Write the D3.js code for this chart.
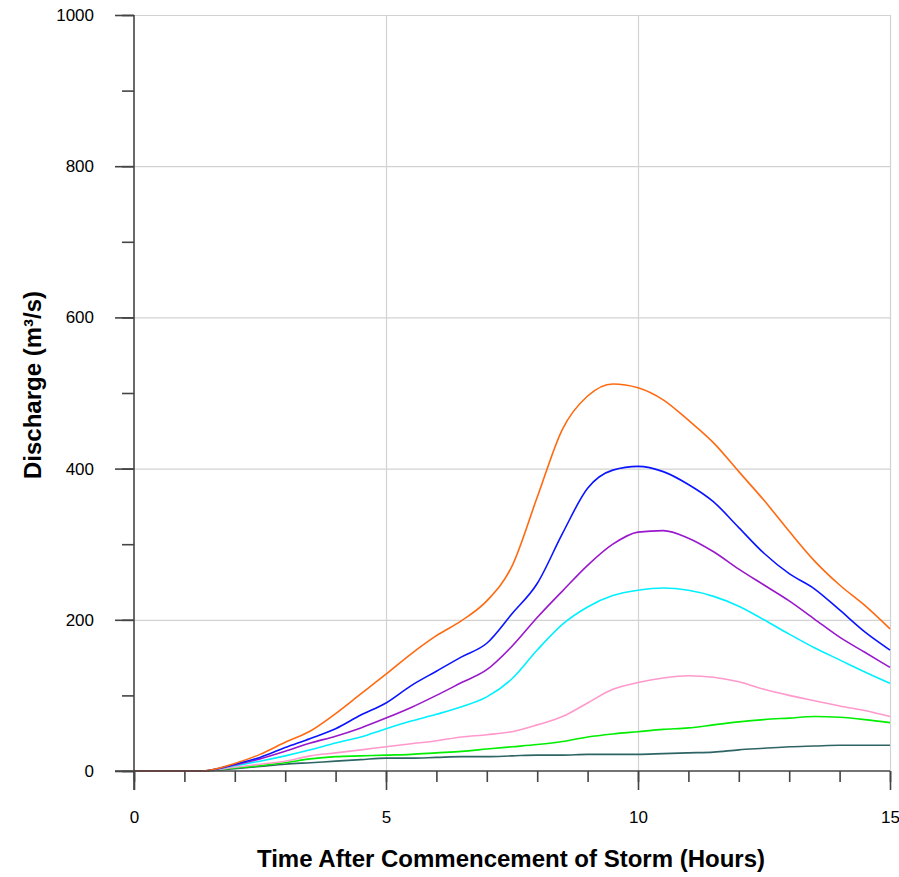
<!DOCTYPE html>
<html>
<head>
<meta charset="utf-8">
<script src="https://cdn.jsdelivr.net/npm/d3@7"></script>
<style>
  body { margin: 0; background: #fff; }
  svg text { font-family: "Liberation Sans", Arial, sans-serif; fill: #000; }
  .axis path, .axis line { stroke: #444; stroke-width: 1.6; }
  .grid line { stroke: #d2d2d2; stroke-width: 1.2; }
  .grid path { display: none; }
</style>
</head>
<body>
<div id="chart"></div>
<script>
// hours after the storm began
const hours = [0, 1.35, 2, 2.5, 3, 3.5, 4, 4.5, 5, 5.5, 6, 6.5, 7, 7.5, 8, 8.5, 9, 9.5, 10, 10.5, 11, 11.5, 12, 12.5, 13, 13.5, 14, 14.5, 15];

// discharge, m3/s, one array per hydrograph
const orangeQ = [0, 0, 10, 22, 38, 53, 76, 102, 128, 155, 179, 199, 225, 271, 362, 452, 496, 512, 507, 491, 464, 434, 396, 358, 317, 278, 246, 219, 188];
const blueQ   = [0, 0, 9, 18, 31, 43, 56, 74, 90, 113, 132, 151, 169, 208, 248, 314, 374, 398, 403, 396, 379, 356, 322, 288, 261, 241, 213, 184, 160];
const purpleQ = [0, 0, 8, 16, 26, 37, 46, 57, 70, 84, 100, 117, 134, 165, 203, 238, 272, 300, 316, 318, 308, 290, 267, 246, 225, 201, 177, 157, 137];
const cyanQ   = [0, 0, 7, 13, 20, 28, 37, 45, 56, 66, 75, 85, 98, 122, 160, 194, 217, 232, 239, 242, 239, 231, 218, 200, 181, 163, 147, 131, 116];
const pinkQ   = [0, 0, 5, 9, 13, 20, 24, 28, 32, 36, 40, 45, 48, 52, 61, 72, 90, 108, 117, 123, 126, 124, 118, 108, 100, 93, 86, 80, 72];
const greenQ  = [0, 0, 4, 7, 11, 16, 19, 20, 21, 22, 24, 26, 29, 32, 35, 39, 45, 49, 52, 55, 57, 61, 65, 68, 70, 72, 71, 68, 64];
const tealQ   = [0, 0, 3, 6, 9, 11, 13, 15, 17, 17, 18, 19, 19, 20, 21, 21, 22, 22, 22, 23, 24, 25, 28, 30, 32, 33, 34, 34, 34];
const baseQ   = [0, 0];  // flat start before runoff begins

const seriesList = [
  { values: tealQ,   color: "#2f6464" },
  { values: greenQ,  color: "#00ee00" },
  { values: pinkQ,   color: "#ff99cc" },
  { values: cyanQ,   color: "#00f0ff" },
  { values: purpleQ, color: "#9a18cc" },
  { values: blueQ,   color: "#0a14ff" },
  { values: orangeQ, color: "#ff6a10" },
  { values: baseQ,   color: "#c04848" }
];

const xMajor = [0, 5, 10, 15];
const xMinor = d3.range(0, 16, 1);
const yMajor = [0, 200, 400, 600, 800, 1000];
const yMinor = d3.range(0, 1001, 100);

const W = 899, H = 877;
const margin = {top: 15, right: 9, bottom: 106, left: 134};
const width = W - margin.left - margin.right;
const height = H - margin.top - margin.bottom;

const x = d3.scaleLinear().domain([0, 15]).range([0, width]);
const y = d3.scaleLinear().domain([0, 1000]).range([height, 0]);

const svg = d3.select("#chart").append("svg")
    .attr("width", W)
    .attr("height", H);
const g = svg.append("g")
    .attr("transform", "translate(" + margin.left + "," + margin.top + ")");

// grid
g.append("g")
    .attr("class", "grid")
    .call(d3.axisLeft(y).tickValues(yMajor.slice(1)).tickSize(-width).tickFormat(""));
g.append("g")
    .attr("class", "grid")
    .attr("transform", "translate(0," + height + ")")
    .call(d3.axisBottom(x).tickValues(xMajor.slice(1)).tickSize(-height).tickFormat(""));

// lines
const line = d3.line()
    .x((d, i) => x(hours[i]))
    .y(d => y(d))
    .curve(d3.curveMonotoneX);

g.selectAll(".series")
  .data(seriesList)
  .enter()
  .append("path")
    .attr("class", "series")
    .attr("fill", "none")
    .attr("stroke", d => d.color)
    .attr("stroke-width", 1.6)
    .attr("d", d => line(d.values));

// axes: minor ticks, then major ticks with labels
const xMinorAxis = g.append("g")
    .attr("class", "axis")
    .attr("transform", "translate(0," + height + ")")
    .call(d3.axisBottom(x).tickValues(xMinor).tickSize(11).tickSizeOuter(0).tickFormat(""));
xMinorAxis.select(".domain").remove();

const xAxis = g.append("g")
    .attr("class", "axis")
    .attr("transform", "translate(0," + height + ")")
    .call(d3.axisBottom(x).tickValues(xMajor).tickSize(19).tickSizeOuter(0).tickPadding(21));
xAxis.select(".domain").attr("d", "M-19,0H" + width);
xAxis.selectAll("text").attr("font-size", 17);

const yMinorAxis = g.append("g")
    .attr("class", "axis")
    .call(d3.axisLeft(y).tickValues(yMinor).tickSize(12).tickSizeOuter(0).tickFormat(""));
yMinorAxis.select(".domain").remove();

const yAxis = g.append("g")
    .attr("class", "axis")
    .call(d3.axisLeft(y).tickValues(yMajor).tickSize(19).tickSizeOuter(0).tickPadding(21).tickFormat(d3.format("d")));
yAxis.select(".domain").attr("d", "M0,0V" + (height + 19));
yAxis.selectAll("text").attr("font-size", 17);

// axis titles
svg.append("text")
    .attr("x", margin.left + width / 2 - 1)
    .attr("y", 867)
    .attr("text-anchor", "middle")
    .attr("font-size", 24)
    .attr("font-weight", "bold")
    .text("Time After Commencement of Storm (Hours)");

svg.append("text")
    .attr("transform", "translate(41,385) rotate(-90)")
    .attr("text-anchor", "middle")
    .attr("font-size", 24)
    .attr("font-weight", "bold")
    .text("Discharge (m³/s)");
</script>
</body>
</html>
